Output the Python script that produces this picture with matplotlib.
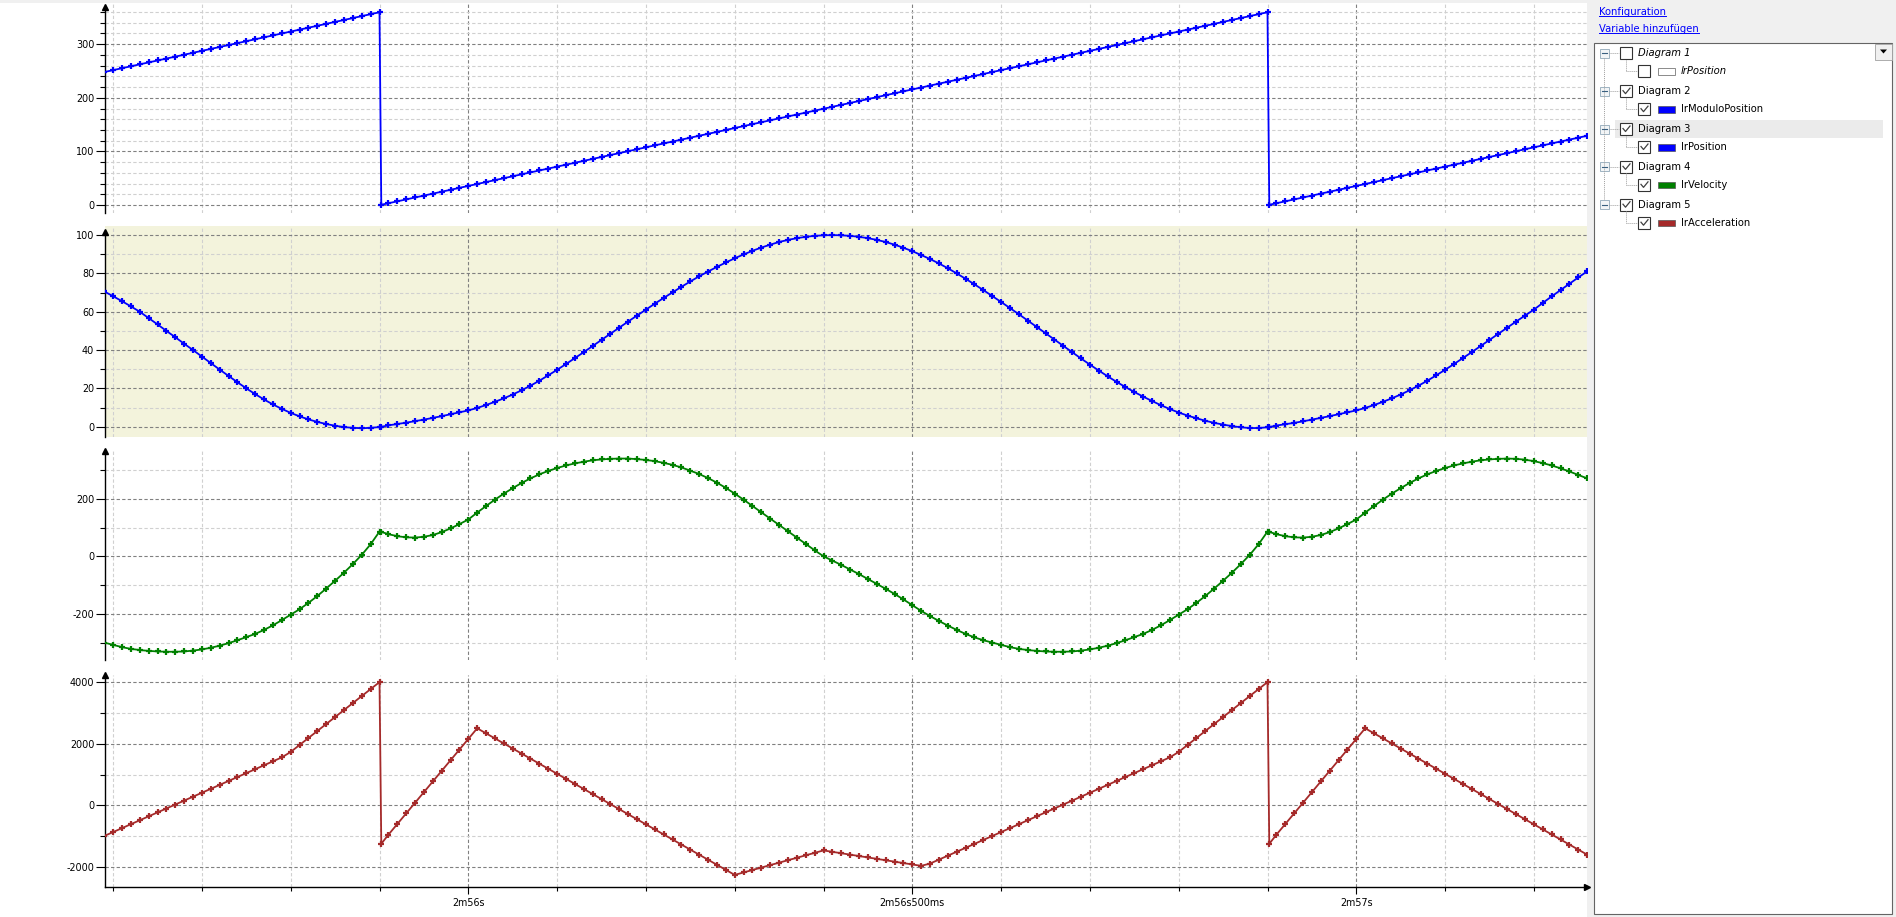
import numpy as np
import matplotlib.pyplot as plt
from matplotlib.ticker import MultipleLocator, FuncFormatter
from matplotlib.patches import Rectangle, Polygon

plt.rcParams['font.family'] = 'DejaVu Sans'
plt.rcParams['axes.unicode_minus'] = False

# sample clock: 10 ms samples, plus one extra sample right after each modulo wrap
t_first = 175.59
dt = 0.01
n_samples = 168
wrap_times = [175.902, 176.902]

lr_modulo_position = [
    248.0, 251.6, 255.2, 258.8, 262.4, 266.0, 269.6, 273.2, 276.8, 280.4,
    284.0, 287.6, 291.2, 294.8, 298.4, 302.0, 305.6, 309.2, 312.8, 316.4,
    320.0, 323.6, 327.2, 330.8, 334.4, 338.0, 341.6, 345.2, 348.8, 352.4,
    356.0, 359.6,
    0.4,
    3.2, 6.8, 10.4, 14.0, 17.6, 21.2, 24.8, 28.4, 32.0, 35.6,
    39.2, 42.8, 46.4, 50.0, 53.6, 57.2, 60.8, 64.4, 68.0, 71.6,
    75.2, 78.8, 82.4, 86.0, 89.6, 93.2, 96.8, 100.4, 104.0, 107.6,
    111.2, 114.8, 118.4, 122.0, 125.6, 129.2, 132.8, 136.4, 140.0, 143.6,
    147.2, 150.8, 154.4, 158.0, 161.6, 165.2, 168.8, 172.4, 176.0, 179.6,
    183.2, 186.8, 190.4, 194.0, 197.6, 201.2, 204.8, 208.4, 212.0, 215.6,
    219.2, 222.8, 226.4, 230.0, 233.6, 237.2, 240.8, 244.4, 248.0, 251.6,
    255.2, 258.8, 262.4, 266.0, 269.6, 273.2, 276.8, 280.4, 284.0, 287.6,
    291.2, 294.8, 298.4, 302.0, 305.6, 309.2, 312.8, 316.4, 320.0, 323.6,
    327.2, 330.8, 334.4, 338.0, 341.6, 345.2, 348.8, 352.4, 356.0, 359.6,
    0.4,
    3.2, 6.8, 10.4, 14.0, 17.6, 21.2, 24.8, 28.4, 32.0, 35.6,
    39.2, 42.8, 46.4, 50.0, 53.6, 57.2, 60.8, 64.4, 68.0, 71.6,
    75.2, 78.8, 82.4, 86.0, 89.6, 93.2, 96.8, 100.4, 104.0, 107.6,
    111.2, 114.8, 118.4, 122.0, 125.6, 129.2,
]

lr_position = [
    70.6, 68.1, 65.5, 62.8, 60.0, 56.7, 53.4, 50.0, 46.7, 43.3,
    40.0, 36.6, 33.2, 29.8, 26.5, 23.2, 20.0, 17.0, 14.2, 11.6,
    9.3, 7.2, 5.4, 3.8, 2.5, 1.4, 0.5, -0.2, -0.6, -0.8,
    -0.6, -0.2,
    -0.1,
    0.7, 1.4, 2.1, 2.9, 3.7, 4.6, 5.5, 6.5, 7.5, 8.5,
    9.8, 11.3, 13.0, 14.8, 16.8, 19.0, 21.4, 24.0, 26.8, 29.7,
    32.7, 35.8, 38.9, 42.1, 45.3, 48.5, 51.7, 54.9, 58.0, 61.1,
    64.2, 67.2, 70.1, 73.0, 75.8, 78.5, 81.0, 83.4, 85.7, 87.9,
    89.9, 91.8, 93.5, 95.0, 96.4, 97.5, 98.4, 99.1, 99.6, 99.9,
    100.0, 99.9, 99.6, 99.1, 98.4, 97.5, 96.4, 95.0, 93.4, 91.6,
    89.6, 87.5, 85.2, 82.7, 80.0, 77.2, 74.3, 71.3, 68.2, 65.1,
    61.9, 58.7, 55.4, 52.1, 48.8, 45.5, 42.2, 38.9, 35.6, 32.4,
    29.3, 26.3, 23.4, 20.7, 18.1, 15.7, 13.4, 11.2, 9.2, 7.4,
    5.8, 4.4, 3.1, 2.0, 1.1, 0.3, -0.3, -0.7, -0.7, -0.3,
    -0.2,
    0.6, 1.3, 2.0, 2.8, 3.7, 4.6, 5.5, 6.5, 7.5, 8.5,
    9.8, 11.3, 13.0, 14.8, 16.8, 19.0, 21.4, 24.0, 26.8, 29.7,
    32.7, 35.8, 38.9, 42.1, 45.3, 48.5, 51.7, 54.9, 58.0, 61.1,
    64.6, 68.0, 71.3, 74.6, 77.9, 81.1,
]

lr_velocity = [
    -300, -308, -316, -322, -326, -329, -331, -332, -332, -331,
    -328, -324, -318, -311, -302, -292, -281, -270, -256, -240,
    -222, -203, -184, -162, -138, -112, -85, -57, -27, 5,
    42, 86,
    85,
    77, 70, 66, 65, 68, 74, 84, 97, 112, 128,
    152, 175, 197, 218, 237, 255, 271, 285, 297, 307,
    316, 323, 329, 334, 337, 339, 340, 340, 338, 335,
    331, 325, 318, 309, 298, 286, 272, 256, 238, 218,
    197, 175, 153, 131, 109, 87, 65, 43, 21, 0,
    -15, -30, -46, -62, -79, -96, -113, -131, -150, -170,
    -190, -208, -225, -241, -256, -270, -282, -292, -300, -308,
    -316, -322, -326, -329, -331, -332, -332, -331, -328, -324,
    -318, -311, -302, -292, -281, -270, -256, -240, -222, -203,
    -184, -162, -138, -112, -85, -57, -27, 5, 42, 86,
    85,
    77, 70, 66, 65, 68, 74, 84, 97, 112, 128,
    152, 175, 197, 218, 237, 255, 271, 285, 297, 307,
    316, 323, 329, 334, 337, 339, 340, 339, 336, 331,
    324, 316, 306, 295, 283, 271,
]

lr_acceleration = [
    -997, -869, -742, -614, -486, -359, -231, -104, 24, 152,
    280, 407, 535, 663, 790, 918, 1045, 1173, 1301, 1428,
    1556, 1733, 1960, 2187, 2413, 2640, 2867, 3093, 3320, 3547,
    3773, 4000,
    -1250,
    -955, -609, -264, 82, 427, 773, 1118, 1464, 1809, 2155,
    2500, 2336, 2172, 2008, 1844, 1679, 1515, 1351, 1187, 1023,
    859, 695, 531, 367, 203, 38, -126, -290, -454, -618,
    -782, -946, -1110, -1274, -1438, -1603, -1767, -1931, -2095, -2260,
    -2180, -2101, -2021, -1942, -1862, -1783, -1703, -1624, -1544, -1465,
    -1511, -1556, -1602, -1647, -1693, -1739, -1784, -1830, -1875, -1921,
    -1966, -1891, -1763, -1635, -1508, -1380, -1252, -1125, -997, -869,
    -742, -614, -486, -359, -231, -104, 24, 152, 280, 407,
    535, 663, 790, 918, 1045, 1173, 1301, 1428, 1556, 1733,
    1960, 2187, 2413, 2640, 2867, 3093, 3320, 3547, 3773, 4000,
    -1250,
    -955, -609, -264, 82, 427, 773, 1118, 1464, 1809, 2155,
    2500, 2336, 2172, 2008, 1844, 1679, 1515, 1351, 1187, 1023,
    859, 695, 531, 367, 203, 38, -126, -290, -454, -618,
    -782, -946, -1110, -1274, -1438, -1603,
]

# tree on the right
tree_groups = ['Diagram 1', 'Diagram 2', 'Diagram 3', 'Diagram 4', 'Diagram 5']
tree_vars = ['lrPosition', 'lrModuloPosition', 'lrPosition', 'lrVelocity', 'lrAcceleration']
tree_colors = [None, '#0000ff', '#0000ff', '#008000', '#a52a2a']
tree_checked = [False, True, True, True, True]

t = np.round(t_first + dt * np.arange(n_samples), 3)
t = np.insert(t, [32, 132], wrap_times)

W, H = 1896, 917
fig = plt.figure(figsize=(W / 100, H / 100), dpi=100)
fig.patch.set_facecolor('white')

# pixel overlay for the window chrome
bg = fig.add_axes([0, 0, 1, 1], zorder=0)
bg.set_xlim(0, W)
bg.set_ylim(H, 0)
bg.axis('off')
bg.add_patch(Rectangle((0, 0), W, 3, color='#f0f0f0', lw=0))
bg.add_patch(Rectangle((1587, 0), W - 1587, H, color='#f0f0f0', lw=0))
bg.add_patch(Rectangle((1594.5, 42.5), 298, 871, fc='white', ec='#646464', lw=0.8))
bg.add_patch(Rectangle((1875, 43.5), 17, 16, fc='#f0f0f0', ec='#a0a0a0', lw=0.6))
bg.add_patch(Polygon([(1880, 49.5), (1887, 49.5), (1883.5, 53.5)], color='black', lw=0))


def time_label(x, pos):
    ms = int(round(x * 1000))
    m, rest = divmod(ms, 60000)
    s, r = divmod(rest, 1000)
    return f"{m}m{s}s" + (f"{r}ms" if r else "")


L, R = 105.3, 1587
xlim = (175.5912, 177.2598)
fs = 6.9

# top, bottom, zero pixel, px per unit, arrow pixel
layout = [
    (3, 213, 205, 0.536, 7),
    (226, 437, 426.7, 1.916, 231.7),
    (450.7, 660, 556.3, 0.2875, 450.7),
    (675, 887, 805.3, 0.0308, 675),
]
series = [lr_modulo_position, lr_position, lr_velocity, lr_acceleration]
colors = ['#0000ff', '#0000ff', '#008000', '#a52a2a']
faces = ['white', '#f3f3dc', 'white', 'white']
steps = [(100, 20), (20, 10), (200, 100), (2000, 1000)]

for i, (top, bot, zero, ppu, arr) in enumerate(layout):
    ax = fig.add_axes([L / W, 1 - bot / H, (R - L) / W, (bot - top) / H], zorder=1)
    ax.set_facecolor(faces[i])
    ax.plot(t, series[i], '-', color=colors[i], lw=1.3, zorder=3)
    ax.plot(t, series[i], ls='none', color=colors[i], marker='+', ms=4.8, mew=1.6, zorder=3)
    ymin, ymax = (zero - bot) / ppu, (zero - top) / ppu
    yarr = (zero - arr) / ppu
    ax.set_xlim(xlim)
    ax.set_ylim(ymin, ymax)
    for s in ['top', 'right']:
        ax.spines[s].set_visible(False)
    ax.spines['left'].set_linewidth(1.0)
    ax.spines['left'].set_bounds(ymin, yarr)
    ax.yaxis.set_major_locator(MultipleLocator(steps[i][0]))
    ax.yaxis.set_minor_locator(MultipleLocator(steps[i][1]))
    ax.xaxis.set_major_locator(MultipleLocator(0.5))
    ax.xaxis.set_minor_locator(MultipleLocator(0.1))
    ax.grid(which='major', color='#808080', ls=(0, (3, 2)), lw=0.8)
    ax.grid(which='minor', color='#d0d0d0', ls=(0, (3, 2)), lw=0.8)
    ax.set_axisbelow(True)
    ax.tick_params(axis='y', which='major', length=6.5, width=0.8, pad=1.5, labelsize=fs)
    ax.tick_params(axis='y', which='minor', length=3.6, width=0.8)
    ax.plot(0, yarr, marker='^', color='k', ms=4, transform=ax.get_yaxis_transform(),
            clip_on=False, zorder=5)
    if i == 3:
        ax.spines['bottom'].set_linewidth(1.0)
        ax.tick_params(axis='x', which='major', length=5, width=0.8, pad=3, labelsize=fs)
        ax.tick_params(axis='x', which='minor', length=3, width=0.8)
        ax.xaxis.set_major_formatter(FuncFormatter(time_label))
        ax.plot(1, 0, marker='>', color='k', ms=4.5, transform=ax.transAxes,
                clip_on=False, zorder=5)
    else:
        ax.spines['bottom'].set_visible(False)
        ax.tick_params(axis='x', which='both', bottom=False, labelbottom=False)

# links
links = []
for txt, y in [('Konfiguration', 12.3), ('Variable hinzufügen', 29)]:
    links.append(bg.text(1599, y, txt, color='#0000ff', fontsize=7.2, va='center', ha='left'))

# tree
dot = dict(color='#a0a0a0', lw=0.7, ls=(0, (1, 1)))
bg.add_patch(Rectangle((1615, 119.5), 268, 18.5, color='#ebebeb', lw=0))
bg.plot([1604.5, 1604.5], [58, 200], **dot)


def checkbox(x, y, checked):
    bg.add_patch(Rectangle((x, y - 6), 12, 12, fc='white', ec='#333333', lw=0.8))
    if checked:
        bg.plot([x + 2.5, x + 5, x + 9.5], [y - 0.5, y + 2.5, y - 3], color='#404040', lw=0.9)


for i, name in enumerate(tree_groups):
    yg = 53.3 + 37.85 * i
    yc = yg + 18
    bg.add_patch(Rectangle((1600, yg - 4.5), 9, 9, fc='#f2f5f7', ec='#9fb3c2', lw=0.7))
    bg.plot([1602, 1607], [yg, yg], color='#3a6080', lw=0.8)
    bg.plot([1609, 1619], [yg, yg], **dot)
    checkbox(1620.5, yg, tree_checked[i])
    style = 'normal' if tree_checked[i] else 'italic'
    bg.text(1638.5, yg, name, fontsize=7.2, va='center', ha='left', style=style)
    bg.plot([1626.5, 1626.5], [yg + 6.5, yc], **dot)
    bg.plot([1626.5, 1637.5], [yc, yc], **dot)
    checkbox(1638.5, yc, tree_checked[i])
    if tree_colors[i] is None:
        bg.add_patch(Rectangle((1658.5, yc - 3), 16.5, 6.5, fc='white', ec='#8a8a8a', lw=0.7))
    else:
        bg.add_patch(Rectangle((1658.5, yc - 3), 16.5, 6.5, fc=tree_colors[i], ec='#555555', lw=0.5))
    bg.text(1681, yc, tree_vars[i], fontsize=7.2, va='center', ha='left', style=style)

# underline the links
fig.canvas.draw()
inv = bg.transData.inverted()
for tx in links:
    bb = tx.get_window_extent()
    (x0, y0), (x1, y1) = inv.transform([(bb.x0, bb.y0), (bb.x1, bb.y1)])
    bg.plot([x0, x1], [y0 - 1, y0 - 1], color='#0000ff', lw=0.7)

fig.savefig('out.png', dpi=100)
